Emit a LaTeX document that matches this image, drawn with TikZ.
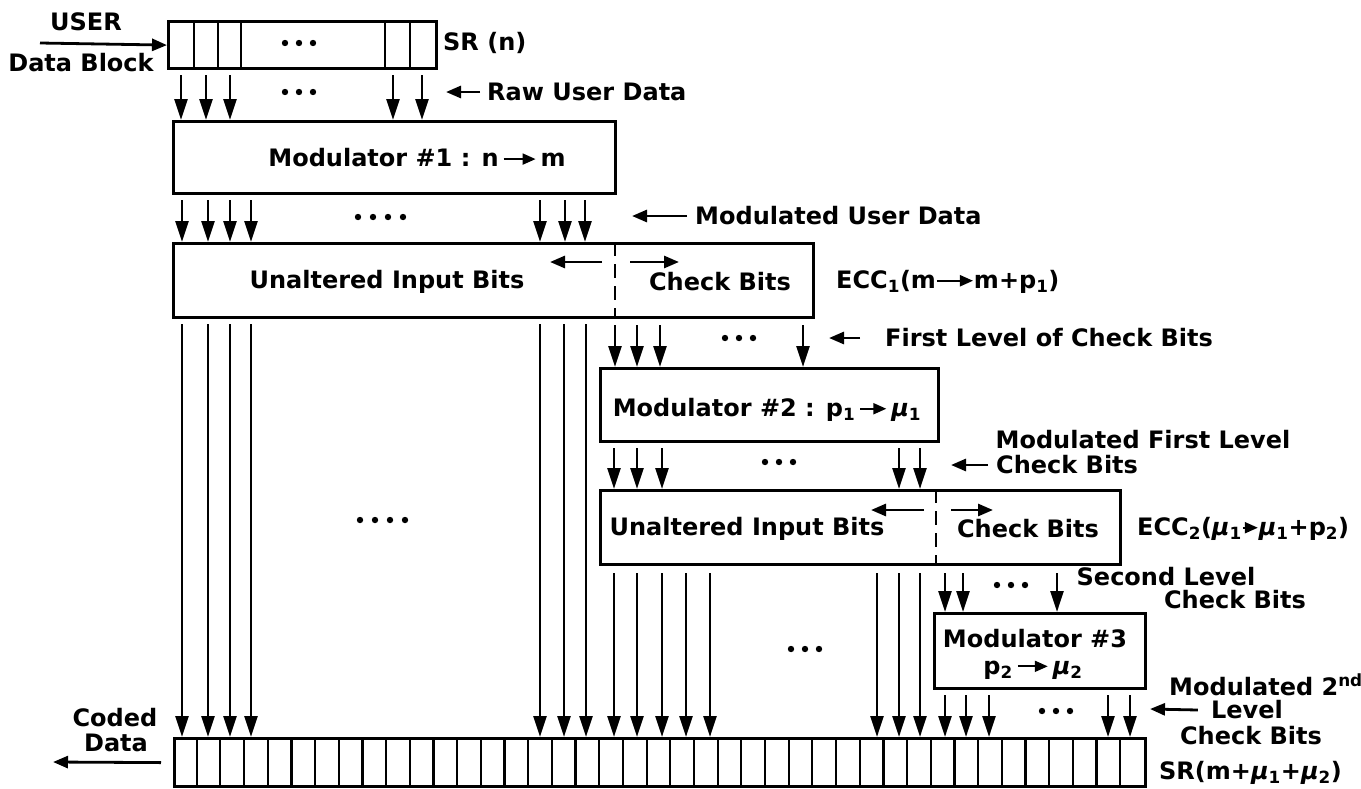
\documentclass[tikz,border=0pt]{standalone}
\usepackage{fontspec}
\setmainfont{DejaVu Sans}
\usetikzlibrary{arrows.meta}
\newcommand{\rarr}[1][24]{\tikz[baseline=-0.6ex]\draw[line width=2pt,-{Triangle[length=13pt,width=11pt]}] (0pt,0pt) -- (#1pt,0pt);}
\tikzset{
  lbl/.style={inner sep=1pt, font=\fontsize{24}{28}\selectfont\bfseries},
  blk/.style={draw, line width=3.2pt, inner sep=0pt, anchor=north west},
  arr/.style={line width=2.6pt, -{Triangle[length=21pt,width=13pt]}},
  sarr/.style={line width=2.8pt, -{Triangle[length=15pt,width=12pt]}},
  sep/.style={line width=2pt, dash pattern=on 14pt off 8pt},
  cellline/.style={line width=2.2pt},
}
\begin{document}
\begin{tikzpicture}[x=1pt,y=-1pt]
\useasboundingbox (0,0) rectangle (1361,788);

% ---------- boxes ----------
\node[blk, minimum width=268, minimum height=47] (srn) at (167,20) {};
\node[blk, minimum width=442, minimum height=72] (mod1) at (172,120) {};
\node[blk, minimum width=640, minimum height=74] (ecc1) at (172,242) {};
\node[blk, minimum width=338, minimum height=73] (mod2) at (599,367) {};
\node[blk, minimum width=520, minimum height=74] (ecc2) at (599,489) {};
\node[blk, minimum width=211, minimum height=75] (mod3) at (933,612) {};
\node[blk, minimum width=971, minimum height=48] (bsr) at (173,737) {};

% cells of SR(n)
\foreach \d in {27,51,74,218,243}
  \draw[cellline] ([xshift=\d]srn.north west) -- ([xshift=\d]srn.south west);
% cells of output register
\foreach \i in {1,...,40}
  \draw[cellline] ([xshift=\i*23.68]bsr.north west) -- ([xshift=\i*23.68]bsr.south west);

% dashed separators
\draw[sep] ([xshift=443]ecc1.north west) -- ([xshift=443]ecc1.south west);
\draw[sep] ([xshift=337]ecc2.north west) -- ([xshift=337]ecc2.south west);

% ---------- texts ----------
\node[lbl] (user) at (86,22) {USER};
\node[lbl] (datablock) at (81,63) {Data Block};
\node[lbl, anchor=west] (srnlbl) at (442,43) {SR (n)};
\node[lbl, anchor=west] (rawlbl) at (486,92) {Raw User Data};
\node[lbl] (mod1txt) at (417,158) {Modulator \#1 : n\,\rarr[32]\,m};
\node[lbl, anchor=west] (mudlbl) at (694,216) {Modulated User Data};
\node[lbl] (una1) at (387,282) {Unaltered Input Bits};
\node[lbl] (chk1) at (720,282) {Check Bits};
\node[lbl, anchor=west] (ecc1lbl) at (835,282) {ECC\textsubscript{1}(m\rarr[36]m+p\textsubscript{1})};
\node[lbl, anchor=west] (fllbl) at (884,338) {First Level of Check Bits};
\node[lbl] (mod2txt) at (767,410) {Modulator \#2 : p\textsubscript{1}\,\rarr[26]\,\textit{μ}\textsubscript{1}};
\node[lbl] (mfl1) at (1143,440) {Modulated First Level};
\node[lbl, anchor=west] (mfl2) at (995,465) {Check Bits};
\node[lbl] (una2) at (747,529) {Unaltered Input Bits};
\node[lbl] (chk2) at (1028,529) {Check Bits};
\node[lbl, anchor=west] (ecc2lbl) at (1136,529) {ECC\textsubscript{2}(\textit{μ}\textsubscript{1}\rarr[15]\textit{μ}\textsubscript{1}+p\textsubscript{2})};
\node[lbl] (sl1) at (1166,577) {Second Level};
\node[lbl] (sl2) at (1235,600) {Check Bits};
\node[lbl] (mod3txta) at (1035,639) {Modulator \#3};
\node[lbl] (mod3txtb) at (1033,670) {p\textsubscript{2}\,\rarr[30]\,\textit{μ}\textsubscript{2}};
\node[lbl] (m2a) at (1266,685) {Modulated 2\textsuperscript{nd}};
\node[lbl] (m2b) at (1247,710) {Level};
\node[lbl] (m2c) at (1251,736) {Check Bits};
\node[lbl, anchor=west] (bsrlbl) at (1158,773) {SR(m+\textit{μ}\textsubscript{1}+\textit{μ}\textsubscript{2})};
\node[lbl] (coded1) at (115,718) {Coded};
\node[lbl] (coded2) at (116,743) {Data};

% ---------- free arrow ends ----------
\coordinate (userin) at (40,43);
\coordinate (rawtip) at (446,92);
\coordinate (mudtip) at (632,216);
\coordinate (fltip) at (829,338);
\coordinate (mfltip) at (951,465);
\coordinate (m2tip) at (1150,709);
\coordinate (codedtip) at (53,762);
\coordinate (e1la) at (602,262); \coordinate (e1lb) at (550,262);
\coordinate (e1ra) at (630,262); \coordinate (e1rb) at (679,262);
\coordinate (e2la) at (924,510); \coordinate (e2lb) at (871,510);
\coordinate (e2ra) at (951,510); \coordinate (e2rb) at (993,510);

% ---------- arrows ----------
\draw[sarr] (userin) -- (srn.west);
\draw[sarr] ([xshift=-6]rawlbl.west) -- (rawtip);
\draw[sarr] ([xshift=-7]mudlbl.west) -- (mudtip);
\draw[sarr] ([xshift=-24]fllbl.west) -- (fltip);
\draw[sarr] ([xshift=-7]mfl2.west) -- (mfltip);
\draw[sarr] ([xshift=-12]m2b.west) -- (m2tip);
\draw[sarr] ([xshift=-12]bsr.west) -- (codedtip);
\draw[sarr] (e1la) -- (e1lb);
\draw[sarr] (e1ra) -- (e1rb);
\draw[sarr] (e2la) -- (e2lb);
\draw[sarr] (e2ra) -- (e2rb);

% SR(n) -> Modulator 1
\foreach \x in {181,206,230,393,422}
  \draw[arr] ([xshift=\x-167,yshift=-5]srn.south west) -- ([xshift=\x-172]mod1.north west);
% Modulator 1 -> ECC1
\foreach \x in {182,208,230,251,540,565,585}
  \draw[arr] ([xshift=\x-172,yshift=-5]mod1.south west) -- ([xshift=\x-172]ecc1.north west);
% ECC1 -> output register (unaltered bits)
\foreach \x in {182,208,230,251,540,564,586}
  \draw[arr] ([xshift=\x-172,yshift=-5]ecc1.south west) -- ([xshift=\x-173]bsr.north west);
% ECC1 -> Modulator 2
\foreach \x in {615,637,660,803}
  \draw[arr] ([xshift=\x-172,yshift=-6]ecc1.south west) -- ([xshift=\x-599]mod2.north west);
% Modulator 2 -> ECC2
\foreach \x in {614,637,662,899,920}
  \draw[arr] ([xshift=\x-599,yshift=-5]mod2.south west) -- ([xshift=\x-599]ecc2.north west);
% ECC2 -> output register
\foreach \x in {614,637,662,686,710,877,899,920}
  \draw[arr] ([xshift=\x-599,yshift=-7]ecc2.south west) -- ([xshift=\x-173]bsr.north west);
% ECC2 -> Modulator 3
\foreach \x in {945,963,1057}
  \draw[arr] ([xshift=\x-599,yshift=-7]ecc2.south west) -- ([xshift=\x-933]mod3.north west);
% Modulator 3 -> output register
\foreach \x in {945,966,989,1108,1130}
  \draw[arr] ([xshift=\x-933,yshift=-5]mod3.south west) -- ([xshift=\x-173]bsr.north west);

% ---------- ellipsis dots ----------
\foreach \x in {285,299,313} \fill (\x,43) circle[radius=3.2pt];
\foreach \x in {285,299,313} \fill (\x,92) circle[radius=3.2pt];
\foreach \x in {358,373,388,403} \fill (\x,217) circle[radius=3.2pt];
\foreach \x in {725,739,753} \fill (\x,338) circle[radius=3.2pt];
\foreach \x in {765,779,793} \fill (\x,462) circle[radius=3.2pt];
\foreach \x in {360,375,390,405} \fill (\x,520) circle[radius=3.2pt];
\foreach \x in {997,1011,1025} \fill (\x,585) circle[radius=3.2pt];
\foreach \x in {791,805,819} \fill (\x,649) circle[radius=3.2pt];
\foreach \x in {1042,1056,1070} \fill (\x,711) circle[radius=3.2pt];
\end{tikzpicture}
\end{document}
